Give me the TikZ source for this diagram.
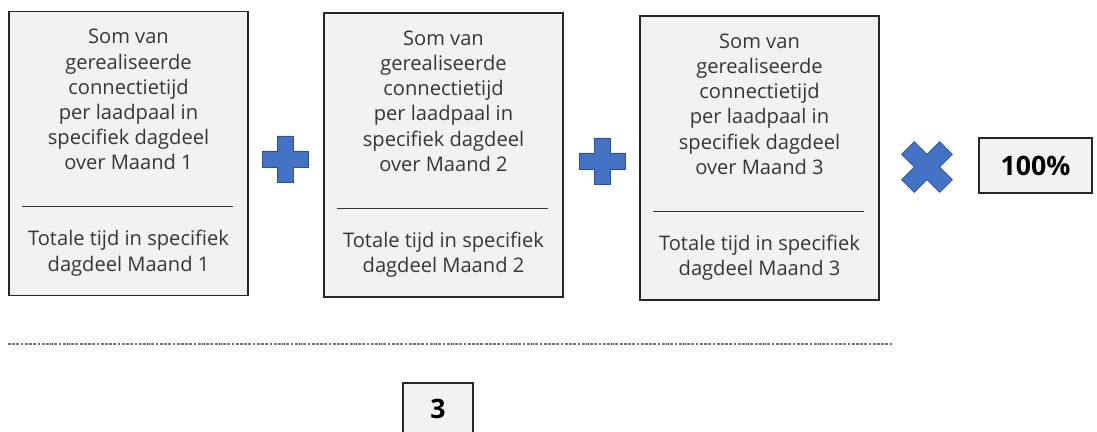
\documentclass[tikz,border=0pt]{standalone}
\usepackage{fontspec}
\setmainfont{Open Sans}
\usetikzlibrary{positioning}

\definecolor{boxfill}{HTML}{F2F2F2}
\definecolor{boxline}{HTML}{262626}
\definecolor{txtgray}{HTML}{363636}
\definecolor{opblue}{HTML}{4472C4}
\definecolor{opedge}{HTML}{2F528F}

\tikzset{
    fracbox/.style={draw=boxline, fill=boxfill, line width=1.1pt,
        minimum width=5.975cm, minimum height=7.1cm, inner sep=0pt},
    fractext/.style={align=center, text=txtgray,
        font=\fontsize{14.3}{17.9}\selectfont},
    numbox/.style={draw=boxline, fill=boxfill, line width=1.1pt,
        font=\fontsize{19}{22}\selectfont\bfseries, inner sep=0pt},
    opsign/.style={fill=opblue, draw=opedge, line width=0.5pt},
}

\begin{document}
\begin{tikzpicture}[x=0.025cm, y=-0.025cm]
        \useasboundingbox (0,0) rectangle (1097,432);
        \clip (0,0) rectangle (1097,432);

        % Maand 1
        \node [fracbox] (box1) at (128.5,153.5) {};
        \node [fractext] (num1) at ([yshift=-2.225cm]box1.north)
            {Som van\\gerealiseerde\\connectietijd\\per laadpaal in\\specifiek dagdeel\\over Maand 1};
        \coordinate (sep1l) at ([xshift=0.35cm,yshift=-4.9cm]box1.north west);
        \coordinate (sep1r) at ([xshift=-0.4cm,yshift=-4.9cm]box1.north east);
        \draw[txtgray, line width=0.6pt] (sep1l) -- (sep1r);
        \node [fractext] (den1) at ([yshift=-6.06cm]box1.north)
            {Totale tijd in specifiek\\dagdeel Maand 1};

        % Maand 2
        \node [fracbox] (box2) at (443.5,155) {};
        \node [fractext] (num2) at ([yshift=-2.225cm]box2.north)
            {Som van\\gerealiseerde\\connectietijd\\per laadpaal in\\specifiek dagdeel\\over Maand 2};
        \coordinate (sep2l) at ([xshift=0.35cm,yshift=-4.9cm]box2.north west);
        \coordinate (sep2r) at ([xshift=-0.4cm,yshift=-4.9cm]box2.north east);
        \draw[txtgray, line width=0.6pt] (sep2l) -- (sep2r);
        \node [fractext] (den2) at ([yshift=-6.06cm]box2.north)
            {Totale tijd in specifiek\\dagdeel Maand 2};

        % Maand 3
        \node [fracbox] (box3) at (759.5,158) {};
        \node [fractext] (num3) at ([yshift=-2.225cm]box3.north)
            {Som van\\gerealiseerde\\connectietijd\\per laadpaal in\\specifiek dagdeel\\over Maand 3};
        \coordinate (sep3l) at ([xshift=0.35cm,yshift=-4.9cm]box3.north west);
        \coordinate (sep3r) at ([xshift=-0.4cm,yshift=-4.9cm]box3.north east);
        \draw[txtgray, line width=0.6pt] (sep3l) -- (sep3r);
        \node [fractext] (den3) at ([yshift=-6.06cm]box3.north)
            {Totale tijd in specifiek\\dagdeel Maand 3};

        % plus signs
        \coordinate (plus1) at (285,159);
        \coordinate (plus2) at (602,161);
        \foreach \p in {plus1,plus2}
            \draw[opsign, shift={(\p)}] (-8,-23) -- (8,-23) -- (8,-8) -- (23,-8)
                -- (23,8) -- (8,8) -- (8,23) -- (-8,23) -- (-8,8) -- (-23,8)
                -- (-23,-8) -- (-8,-8) -- cycle;

        % times sign
        \coordinate (times) at (927,167);
        \draw[opsign, shift={(times)}, rotate=45] (-9,-27) -- (9,-27) -- (9,-9) -- (27,-9)
            -- (27,9) -- (9,9) -- (9,27) -- (-9,27) -- (-9,9) -- (-27,9)
            -- (-27,-9) -- (-9,-9) -- cycle;

        % 100%
        \node [numbox, minimum width=2.825cm, minimum height=1.375cm]
            (factor) at (1035.5,165.5) {100\%};

        % deelstreep
        \coordinate (dashl) at (8,344);
        \coordinate (dashr) at (892,344);
        \draw[black!55, line width=0.8pt, dash pattern=on 2pt off 1pt] (dashl) -- (dashr);

        % noemer
        \node [numbox, minimum width=1.75cm, minimum height=1.3cm]
            (divisor) at (438,409) {3};
\end{tikzpicture}
\end{document}
